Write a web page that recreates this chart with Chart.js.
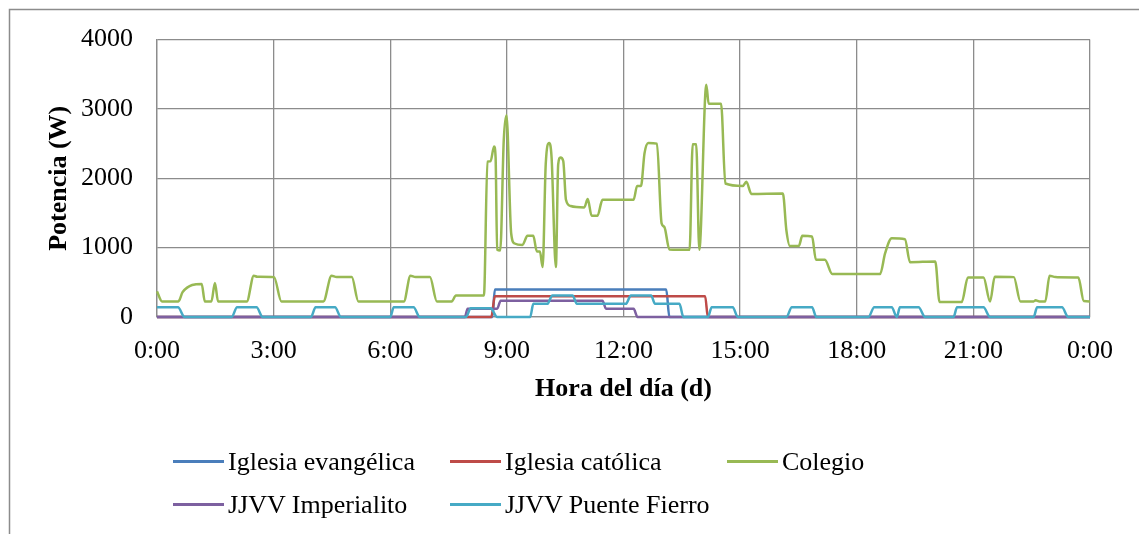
<!DOCTYPE html>
<html>
<head>
<meta charset="utf-8">
<script src="https://cdn.jsdelivr.net/npm/chart.js@4"></script>
<style>
  html, body { margin: 0; padding: 0; background: #fff; overflow: hidden; }
  #wrap { position: relative; width: 1139px; height: 534px; overflow: hidden; font-family: "Liberation Serif", "Times New Roman", serif; }
  canvas { position: absolute; left: 0; top: 0; }
  .item { position: absolute; font-size: 26px; line-height: 30px; white-space: nowrap; color: #000; }
  .swatch { position: absolute; height: 3px; width: 51px; }
</style>
</head>
<body>
<div id="wrap">
  <canvas id="chart" width="1139" height="534"></canvas>
  <div id="legend"></div>
</div>
<script>
const series = ["Iglesia evangélica", "Iglesia católica", "Colegio", "JJVV Imperialito", "JJVV Puente Fierro"]
const colores = ["#4A7EBB", "#BE4B48", "#98B954", "#7D60A0", "#46AAC5"]

// hora del dia (h) / potencia (W)
const horasEvangelica = [0, 8.63, 8.69, 13.10, 13.18, 24]
const evangelica = [0, 0, 395, 395, 0, 0]

const horasCatolica = [0, 8.60, 8.69, 14.10, 14.17, 24]
const catolica = [0, 0, 300, 300, 0, 0]

const horasColegio = [0, 0.13, 0.55, 0.66, 1.15, 1.23, 1.40, 1.49, 1.57, 2.31, 2.49, 2.58, 3.01, 3.20,
  4.28, 4.49, 4.62, 5.01, 5.18, 6.35, 6.52, 6.65, 7.02, 7.20, 7.58, 7.69, 8.41, 8.50, 8.58, 8.67,
  8.71, 8.75, 8.83, 8.92, 8.99, 9.11, 9.20, 9.40, 9.53, 9.68, 9.77, 9.85, 9.92, 10.00, 10.09, 10.15,
  10.26, 10.32, 10.38, 10.45, 10.52, 10.64, 10.99, 11.08, 11.18, 11.33, 11.46, 12.26, 12.35, 12.45,
  12.54, 12.64, 12.86, 12.98, 13.05, 13.18, 13.70, 13.78, 13.87, 13.95, 14.13, 14.19, 14.51, 14.62,
  15.07, 15.16, 15.29, 16.10, 16.19, 16.28, 16.51, 16.60, 16.85, 16.95, 17.18, 17.37, 18.60, 18.73,
  18.90, 19.24, 19.37, 20.02, 20.13, 20.70, 20.86, 21.26, 21.43, 21.55, 22.04, 22.21, 22.55, 22.60,
  22.70, 22.85, 22.96, 23.11, 23.70, 23.84, 24]
const colegio = [370, 225, 225, 360, 475, 225, 225, 490, 225, 225, 595, 580, 575, 225,
  225, 595, 575, 575, 225, 225, 595, 575, 575, 225, 225, 310, 310, 2240, 2245, 2460,
  2300, 970, 960, 2550, 2910, 1210, 1060, 1040, 1170, 1170, 945, 945, 720, 2210, 2510, 2300,
  720, 2200, 2300, 2250, 1690, 1600, 1580, 1700, 1460, 1460, 1690, 1690, 1890, 1890,
  2360, 2510, 2500, 1350, 1300, 975, 970, 2490, 2490, 970, 3350, 3075, 3075, 1925,
  1890, 1950, 1775, 1780, 1250, 1025, 1025, 1170, 1160, 825, 825, 620, 620, 920,
  1135, 1120, 790, 800, 215, 215, 570, 570, 224, 580, 575, 225, 225, 240,
  225, 225, 595, 575, 570, 230, 225]

const horasImperialito = [0, 7.92, 7.99, 8.75, 8.84, 11.46, 11.55, 12.26, 12.36, 24]
const imperialito = [0, 0, 120, 120, 235, 235, 120, 120, 0, 0]

const horasFierro = [0, 0.54, 0.71, 1.92, 2.06, 2.56, 2.72, 3.96, 4.08, 4.58, 4.73, 6.00, 6.09, 6.60,
  6.76, 7.95, 8.07, 8.58, 8.75, 9.60, 9.68, 10.04, 10.17, 10.69, 10.80, 12.06, 12.19, 12.71, 12.81,
  13.44, 13.54, 14.17, 14.27, 14.81, 14.94, 16.19, 16.33, 16.85, 16.96, 18.30, 18.45, 18.90, 19.03,
  19.11, 19.59, 19.76, 20.49, 20.58, 21.26, 21.43, 22.55, 22.64, 23.28, 23.44, 24]
const fierro = [140, 140, 0, 0, 140, 140, 0, 0, 140, 140, 0, 0, 140, 140,
  0, 0, 125, 125, 0, 0, 190, 190, 310, 310, 190, 190, 310, 310, 190,
  190, 0, 0, 140, 140, 0, 0, 140, 140, 0, 0, 140, 140, 0,
  140, 140, 0, 0, 140, 140, 0, 0, 140, 140, 0, 0]

const horasTicks = [0, 3, 6, 9, 12, 15, 18, 21, 24]

const horas = [horasEvangelica, horasCatolica, horasColegio, horasImperialito, horasFierro]
const valores = [evangelica, catolica, colegio, imperialito, fierro]

const fuente = "'Liberation Serif', 'Times New Roman', serif"
Chart.defaults.font.family = fuente
Chart.defaults.color = "#000"

// borde exterior del grafico (solo izquierda y arriba quedan dentro de la imagen)
const marco = {
    id: "marco",
    beforeDraw(chart) {
        const ctx = chart.ctx
        ctx.save()
        ctx.strokeStyle = "#8c8c8c"
        ctx.lineWidth = 1.5
        ctx.beginPath()
        ctx.moveTo(9.5, chart.height)
        ctx.lineTo(9.5, 9.5)
        ctx.lineTo(chart.width, 9.5)
        ctx.stroke()
        ctx.restore()
    }
}

const datasets = series.map((nombre, i) => ({
    label: nombre,
    data: horas[i].map((h, j) => ({x: h, y: valores[i][j]})),
    borderColor: colores[i],
    backgroundColor: colores[i],
    borderWidth: 2.5,
    pointRadius: 0,
    cubicInterpolationMode: "monotone",
    fill: false,
    clip: 4,
    order: series.length - 1 - i
}))

new Chart(document.getElementById("chart"), {
    type: "line",
    data: { datasets: datasets },
    plugins: [marco],
    options: {
        responsive: false,
        animation: false,
        layout: { padding: { left: 0, top: 39, right: 49, bottom: 124 } },
        plugins: { legend: { display: false }, tooltip: { enabled: false } },
        scales: {
            x: {
                type: "linear",
                min: 0,
                max: 24,
                afterBuildTicks: scale => { scale.ticks = horasTicks.map(v => ({value: v})) },
                afterFit: scale => { scale.height = 93 },
                ticks: {
                    font: { size: 26 },
                    padding: 19,
                    maxRotation: 0,
                    callback: v => (v % 24) + ":00"
                },
                grid: { color: "#8c8c8c", lineWidth: 1.3, drawTicks: false },
                border: { color: "#8c8c8c", width: 1.3 },
                title: {
                    display: true,
                    text: "Hora del día (d)",
                    font: { size: 26, weight: "bold" },
                    padding: { top: 0, bottom: 5 }
                }
            },
            y: {
                min: 0,
                max: 4000,
                afterFit: scale => { scale.width = 157 },
                ticks: { stepSize: 1000, font: { size: 26 }, padding: 24, callback: v => String(v) },
                grid: { color: "#8c8c8c", lineWidth: 1.3, drawTicks: false },
                border: { color: "#8c8c8c", width: 1.3 },
                title: {
                    display: true,
                    text: "Potencia (W)",
                    font: { size: 26, weight: "bold" },
                    padding: { top: 44, bottom: 0 }
                }
            }
        }
    }
})

// leyenda en columnas como la original
const posLeyenda = [[173, 461], [450, 461], [727, 461], [173, 504], [450, 504]]
const leyenda = document.getElementById("legend")
series.forEach((nombre, i) => {
    const [x, y] = posLeyenda[i]
    leyenda.innerHTML += `
      <div class="swatch" style="left:${x}px;top:${y - 1.5}px;background:${colores[i]}"></div>
      <div class="item" style="left:${x + 55}px;top:${y - 14}px">${nombre}</div>`
})
</script>
</body>
</html>
